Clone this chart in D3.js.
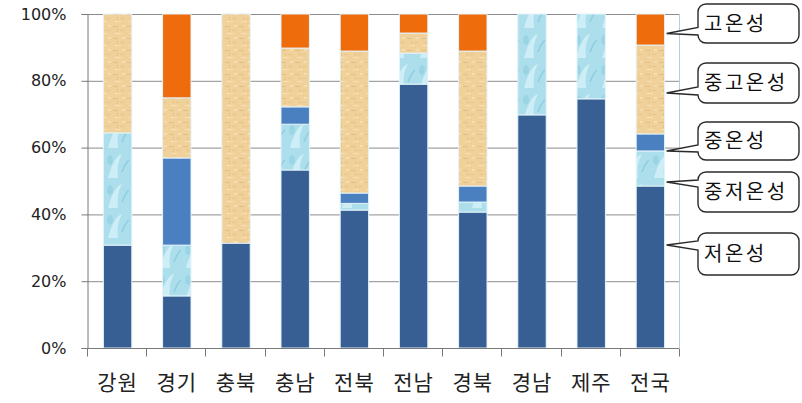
<html><head><meta charset="utf-8"><title>온도 특성 구성비</title>
<style>
  body { margin: 0; background: #fff; }
  svg { display: block; }
</style>
</head>
<body>
<svg id="chart" width="802" height="403"></svg>
<script src="https://cdnjs.cloudflare.com/ajax/libs/d3/7.8.5/d3.min.js"></script>
<script>
  // data (percent, bottom to top)
  const categories = ['강원', '경기', '충북', '충남', '전북', '전남', '경북', '경남', '제주', '전국'];
  const seriesNames = ['저온성', '중저온성', '중온성', '중고온성', '고온성'];
  const low     = [30.8, 15.6, 31.4, 53.3, 41.3, 79.0, 40.7, 69.8, 74.6, 48.5];
  const midLow  = [33.6, 15.2, 0, 13.7, 2.0, 9.3, 3.0, 30.2, 25.4, 10.5];
  const mid     = [0, 26.1, 0, 5.2, 3.1, 0, 4.8, 0, 0, 5.1];
  const midHigh = [35.6, 18.0, 68.6, 17.6, 42.5, 6.0, 40.4, 0, 0, 26.6];
  const high    = [0, 25.1, 0, 10.2, 11.1, 5.7, 11.1, 0, 0, 9.3];
  const yTicks = [0, 20, 40, 60, 80, 100];

  const rows = categories.map((c, i) => ({
    cat: c,
    '저온성': low[i], '중저온성': midLow[i], '중온성': mid[i], '중고온성': midHigh[i], '고온성': high[i]
  }));

  const svg = d3.select('#chart');
  const plotLeft = 87, plotRight = 679, plotTop = 14, plotBottom = 348;

  const x = d3.scaleBand().domain(categories).range([plotLeft, plotRight]).paddingInner(0.52).paddingOuter(0.26);
  const y = d3.scaleLinear().domain([0, 100]).range([plotBottom, plotTop]);

  // textures
  const defs = svg.append('defs');
  const tan = defs.append('pattern').attr('id', 'tan').attr('patternUnits', 'userSpaceOnUse')
    .attr('width', 14).attr('height', 12);
  tan.append('rect').attr('width', 14).attr('height', 12).attr('fill', '#f0d199');
  [[1, 2, 5, 1, '#e4bf84'], [8, 6, 4, 1, '#e7c48b'], [3, 9, 6, 1, '#f7e1b8'], [10, 1, 3, 2, '#f6ddb0'], [5, 5, 1, 3, '#e6c388']]
    .forEach(d => tan.append('rect').attr('x', d[0]).attr('y', d[1]).attr('width', d[2]).attr('height', d[3]).attr('fill', d[4]));

  const cyan = defs.append('pattern').attr('id', 'cyan').attr('patternUnits', 'userSpaceOnUse')
    .attr('width', 26).attr('height', 30);
  cyan.append('rect').attr('width', 26).attr('height', 30).attr('fill', '#acdfeb');
  cyan.append('path').attr('d', 'M4,28 Q10,6 18,4 Q12,14 14,28').attr('fill', '#cdeef6');
  cyan.append('path').attr('d', 'M18,22 Q22,12 25,10').attr('stroke', '#8ecce0').attr('fill', 'none').attr('stroke-width', 1.5);
  cyan.append('ellipse').attr('cx', 6).attr('cy', 10).attr('rx', 3).attr('ry', 5).attr('fill', '#9bd5e5');

  const fills = {
    '저온성': '#375f93',
    '중저온성': 'url(#cyan)',
    '중온성': '#4a7fc0',
    '중고온성': 'url(#tan)',
    '고온성': '#ee6c0c'
  };

  // gridlines
  svg.append('g').selectAll('line').data(yTicks.filter(t => t > 0)).enter().append('line')
    .attr('x1', plotLeft).attr('x2', plotRight)
    .attr('y1', d => y(d) + 0.5).attr('y2', d => y(d) + 0.5)
    .attr('stroke', '#8c8c8c').attr('stroke-width', 1);

  // right border
  svg.append('line').attr('x1', plotRight + 0.5).attr('x2', plotRight + 0.5).attr('y1', plotTop).attr('y2', plotBottom)
    .attr('stroke', '#b8cde0');

  // bars
  const stack = d3.stack().keys(seriesNames);
  const layers = stack(rows);
  svg.append('g').selectAll('g').data(layers).enter().append('g')
    .attr('fill', d => fills[d.key])
    .selectAll('rect').data(d => d.filter(p => p[1] - p[0] > 0)).enter().append('rect')
    .attr('x', d => x(d.data.cat) + 1)
    .attr('y', d => y(d[1]))
    .attr('width', x.bandwidth())
    .attr('height', d => y(d[0]) - y(d[1]))
    .attr('stroke', '#e4f3fa').attr('stroke-width', 1);

  // y axis
  const yAxis = svg.append('g').attr('transform', `translate(${plotLeft + 0.5},0)`)
    .call(d3.axisLeft(y).tickValues(yTicks).tickSize(6).tickFormat(d => d + '%'));
  yAxis.select('.domain').attr('stroke', '#7a7a7a');
  yAxis.selectAll('.tick line').attr('stroke', '#7a7a7a');
  yAxis.selectAll('.tick text').attr('x', -21).attr('fill', '#222')
    .style('font-family', 'DejaVu Sans, sans-serif').style('font-size', '16px');

  // x axis
  const xAxis = svg.append('g').attr('transform', `translate(0,${plotBottom + 0.5})`);
  xAxis.append('line').attr('x1', plotLeft).attr('x2', plotRight).attr('stroke', '#7a7a7a');
  const step = x.step();
  d3.range(categories.length + 1).forEach(i => {
    const bx = Math.round(plotLeft + i * step) + 0.5;
    xAxis.append('line').attr('x1', bx).attr('x2', bx).attr('y1', 0).attr('y2', 8).attr('stroke', '#7a7a7a');
  });
  xAxis.selectAll('text').data(categories).enter().append('text')
    .attr('x', d => x(d) + x.bandwidth() / 2 + 1)
    .attr('y', 41)
    .attr('text-anchor', 'middle')
    .attr('fill', '#222')
    .style('font-family', '"Noto Sans CJK KR", sans-serif')
    .style('font-size', '21px')
    .style('letter-spacing', '1px')
    .text(d => d);

  // callouts pointing into the 전국 bar
  const lastCat = categories[categories.length - 1];
  const tipX = x(lastCat) + x.bandwidth() + 3;
  const callouts = [
    { name: '고온성', y0: 4, y1: 43, dy: 10 },
    { name: '중고온성', y0: 63, y1: 103, dy: 10 },
    { name: '중온성', y0: 122, y1: 160, dy: 10 },
    { name: '중저온성', y0: 172, y1: 212, dy: -10 },
    { name: '저온성', y0: 233, y1: 275, dy: -9 }
  ];
  const bx0 = 698, bx1 = 799, r = 8;
  const cg = svg.append('g');
  callouts.forEach(c => {
    const ty = (c.y0 + c.y1) / 2 + c.dy;
    const wa = Math.max(c.y0 + r, ty - 6), wb = Math.min(c.y1 - r, ty + 5);
    const p = d3.path();
    p.moveTo(bx0 + r, c.y0);
    p.lineTo(bx1 - r, c.y0);
    p.arcTo(bx1, c.y0, bx1, c.y0 + r, r);
    p.lineTo(bx1, c.y1 - r);
    p.arcTo(bx1, c.y1, bx1 - r, c.y1, r);
    p.lineTo(bx0 + r, c.y1);
    p.arcTo(bx0, c.y1, bx0, c.y1 - r, r);
    p.lineTo(bx0, wb);
    p.lineTo(tipX, ty);
    p.lineTo(bx0, wa);
    p.lineTo(bx0, c.y0 + r);
    p.arcTo(bx0, c.y0, bx0 + r, c.y0, r);
    p.closePath();
    cg.append('path').attr('d', p.toString()).attr('fill', '#fff').attr('stroke', '#2a2a2a').attr('stroke-width', 1.4);
    cg.append('text').attr('x', bx0 + 6).attr('y', (c.y0 + c.y1) / 2 + 7)
      .attr('fill', '#111')
      .style('font-family', '"Noto Sans CJK KR", sans-serif')
      .style('font-size', '20px')
      .style('letter-spacing', '2.5px')
      .text(c.name);
  });
</script>
</body></html>
